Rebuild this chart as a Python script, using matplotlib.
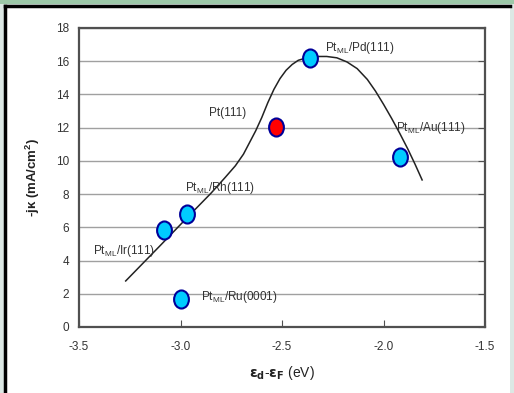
import matplotlib
matplotlib.use("Agg")
import matplotlib.pyplot as plt
from matplotlib.path import Path
from matplotlib.transforms import Affine2D
from matplotlib.patches import Rectangle

plt.rcParams["font.family"] = ["Liberation Sans", "DejaVu Sans"]
plt.rcParams["mathtext.default"] = "regular"

# measured points
names = ["Pt$_{ML}$/Ru(0001)", "Pt$_{ML}$/Ir(111)", "Pt$_{ML}$/Rh(111)",
         "Pt(111)", "Pt$_{ML}$/Pd(111)", "Pt$_{ML}$/Au(111)"]
eps_d = [-3.00, -3.08, -2.97, -2.53, -2.36, -1.92]
jk = [1.7, 5.85, 6.8, 12.05, 16.2, 10.25]
point_colors = ["#00ccff", "#00ccff", "#00ccff", "#ff0000", "#00ccff", "#00ccff"]

# label anchor positions (data coords)
label_x = [-2.90, -3.43, -2.98, -2.86, -2.29, -1.94]
label_y = [1.8, 4.55, 8.35, 12.9, 16.8, 12.0]

# volcano curve
curve_x = [-3.27, -3.10, -2.95, -2.85, -2.78, -2.73, -2.69, -2.66, -2.63, -2.60,
           -2.57, -2.54, -2.51, -2.48, -2.45, -2.42, -2.38, -2.33, -2.28, -2.23,
           -2.18, -2.13, -2.08, -2.04, -2.00, -1.96, -1.92, -1.88, -1.845, -1.81]
curve_y = [2.77, 4.9, 6.8, 8.05, 9.0, 9.7, 10.4, 11.1, 11.8, 12.6,
           13.5, 14.3, 14.95, 15.45, 15.8, 16.05, 16.2, 16.28, 16.28, 16.2,
           15.95, 15.55, 14.9, 14.2, 13.4, 12.55, 11.65, 10.7, 9.8, 8.85]

x_ticks = [-3.5, -3.0, -2.5, -2.0, -1.5]
y_ticks = [0, 2, 4, 6, 8, 10, 12, 14, 16, 18]

fig = plt.figure(figsize=(5.14, 3.93), dpi=100)

# slide frame
fig.patches.append(Rectangle((0, 0), 1, 1, transform=fig.transFigure,
                             facecolor="#dce8e4", edgecolor="none", zorder=-3))
fig.patches.append(Rectangle((0, 0.99), 1, 0.01, transform=fig.transFigure,
                             facecolor="#9cc8a8", edgecolor="none", zorder=-2))
fig.patches.append(Rectangle((0.008, 0), 0.984, 0.986, transform=fig.transFigure,
                             facecolor="white", edgecolor="none", zorder=-1))
fig.lines.append(plt.Line2D([0.0105, 0.0105], [0, 0.986], transform=fig.transFigure,
                            color="black", linewidth=2.5))
fig.lines.append(plt.Line2D([0.0105, 0.992], [0.985, 0.985], transform=fig.transFigure,
                            color="black", linewidth=2.5))

ax = fig.add_axes([0.1537, 0.168, 0.79, 0.761])
ax.set_xlim(-3.5, -1.5)
ax.set_ylim(0, 18)
ax.set_xticks(x_ticks)
ax.set_xticklabels([f"{v:.1f}" for v in x_ticks])
ax.set_yticks(y_ticks)
ax.grid(axis="y", color="#a0a0a0", linewidth=1)
ax.set_axisbelow(True)
for s in ax.spines.values():
    s.set_color("#505050")
    s.set_linewidth(1.6)
ax.tick_params(axis="both", direction="in", length=5, color="#505050",
               labelsize=8.5, labelcolor="#333333")
ax.tick_params(axis="y", right=True, left=False, pad=7)
ax.tick_params(axis="x", pad=10)

ax.plot(curve_x, curve_y, color="#222222", linewidth=1.1, zorder=2)

oval = Path.unit_circle().transformed(Affine2D().scale(0.82, 1.0))
for x, y, c in zip(eps_d, jk, point_colors):
    ax.plot(x, y, marker=oval, markersize=13, markerfacecolor=c,
            markeredgecolor="#000099", markeredgewidth=1.5, linestyle="none", zorder=3)

for name, x, y in zip(names, label_x, label_y):
    ax.text(x, y, name, fontsize=8.5, color="#333333", va="center", ha="left", zorder=4)

ax.set_ylabel("-jκ (mA/cm$^2$)", fontsize=9.5, fontweight="bold", color="#222222",
              labelpad=10)
ax.set_xlabel(r"$\mathbf{ε_d}$-$\mathbf{ε_F}$ (eV)", fontsize=10, color="#222222",
              labelpad=8)

fig.savefig("out.png", dpi=100)
